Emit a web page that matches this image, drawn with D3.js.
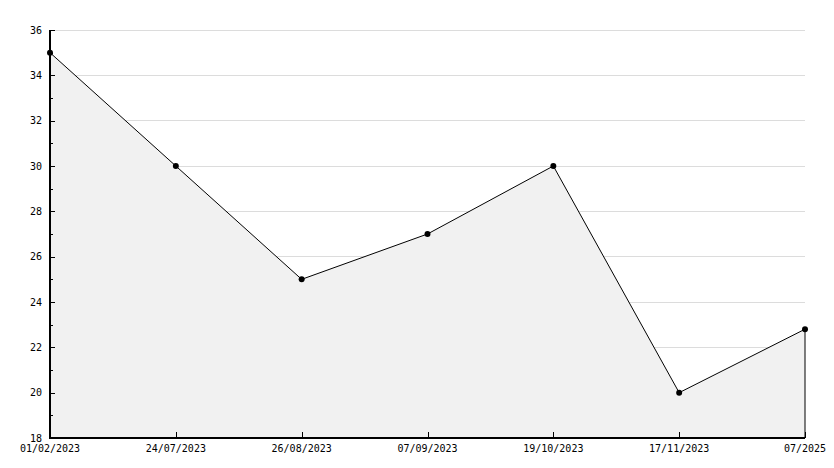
<!DOCTYPE html>
<html><head><meta charset="utf-8">
<script src="https://cdn.jsdelivr.net/npm/d3@7"></script>
<style>body{margin:0;background:#fff}svg{display:block}text{font-family:"DejaVu Sans Mono",monospace;font-size:10px;fill:#000}</style>
</head><body>
<script>
const categories = ["01/02/2023","24/07/2023","26/08/2023","07/09/2023","19/10/2023","17/11/2023","07/2025"];
const values = [35, 30, 25, 27, 30, 20, 22.8];
const yMajorTicks = [18,20,22,24,26,28,30,32,34,36];
const yMinorTicks = [19,21,23,25,27,29,31,33,35];

const W = 834, H = 468;
const svg = d3.select("body").append("svg").attr("width", W).attr("height", H);
const x = d3.scalePoint().domain(categories).range([50, 805]);
const y = d3.scaleLinear().domain([18, 36]).range([438, 30]);
const data = categories.map((c, i) => ({c, v: values[i]}));

// gridlines
svg.append("g").selectAll("line").data(yMajorTicks.filter(t => t > 18)).join("line")
  .attr("x1", 50).attr("x2", 805).attr("y1", d => y(d)).attr("y2", d => y(d))
  .attr("stroke", "#dcdcdc").attr("stroke-width", 1).attr("shape-rendering", "crispEdges");

// area
const area = d3.area().x(d => x(d.c)).y0(y(18)).y1(d => y(d.v));
svg.append("path").datum(data).attr("d", area).attr("fill", "#f1f1f1").attr("stroke", "none");
// right edge
svg.append("line").attr("x1", x(categories[categories.length-1])).attr("x2", x(categories[categories.length-1]))
  .attr("y1", y(values[values.length-1])).attr("y2", y(18)).attr("stroke", "#000").attr("stroke-width", 1);

// line
const line = d3.line().x(d => x(d.c)).y(d => y(d.v));
svg.append("path").datum(data).attr("d", line).attr("fill", "none").attr("stroke", "#000").attr("stroke-width", 1);

// axes
const yAxis = d3.axisRight(y).tickValues(yMajorTicks).tickSize(5).tickFormat("");
const gy = svg.append("g").attr("transform", "translate(50,0)").call(yAxis);
gy.select(".domain").remove();
gy.selectAll("line").attr("stroke", "#000").attr("stroke-width", 1).attr("shape-rendering", "crispEdges");
const yMinor = d3.axisRight(y).tickValues(yMinorTicks).tickSize(3).tickFormat("");
const gym = svg.append("g").attr("transform", "translate(50,0)").call(yMinor);
gym.select(".domain").remove();
gym.selectAll("line").attr("stroke", "#000").attr("shape-rendering", "crispEdges");
svg.append("g").selectAll("text").data(yMajorTicks).join("text")
  .attr("x", 42).attr("y", d => y(d)).attr("dy", "0.35em").attr("text-anchor", "end").text(d => d);

const xAxis = d3.axisTop(x).tickSize(6).tickFormat("");
const gx = svg.append("g").attr("transform", `translate(0,${y(18)})`).call(xAxis);
gx.select(".domain").remove();
gx.selectAll("line").attr("stroke", "#000").attr("shape-rendering", "crispEdges");
svg.append("g").selectAll("text").data(categories).join("text")
  .attr("x", d => x(d)).attr("y", 452).attr("text-anchor", "middle").text(d => d);

svg.append("line").attr("x1", 50).attr("x2", 50).attr("y1", 30).attr("y2", 439).attr("stroke", "#000").attr("stroke-width", 2);
svg.append("line").attr("x1", 49).attr("x2", 805).attr("y1", 438).attr("y2", 438).attr("stroke", "#000").attr("stroke-width", 2);

// markers
svg.append("g").selectAll("path").data(data).join("path")
  .attr("transform", d => `translate(${x(d.c)},${y(d.v)})`)
  .attr("d", d3.symbol().type(d3.symbolCircle).size(28)).attr("fill", "#000");
</script>
</body></html>
